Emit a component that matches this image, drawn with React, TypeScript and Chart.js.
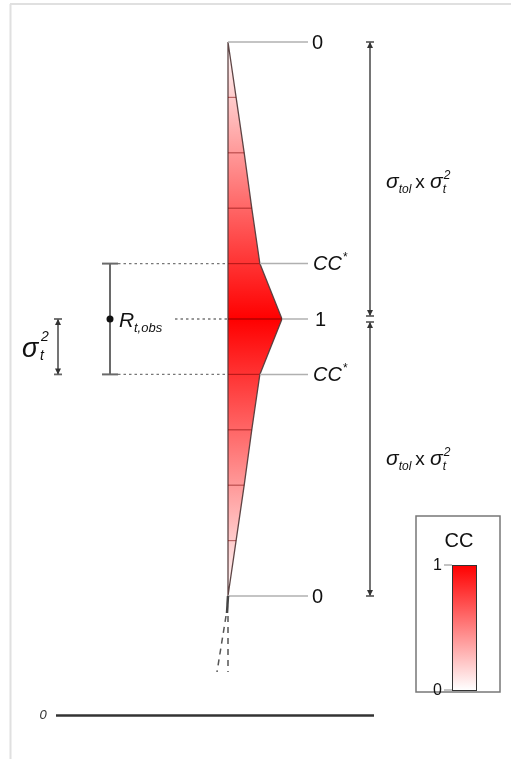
import React, { useEffect, useRef } from 'react';
import { Chart, registerables } from 'chart.js';

Chart.register(...registerables);

// Step positions along the profile (0 = top, 10 = bottom, 5 = R_t,obs)
const positions = [0, 1, 2, 3, 4, 5, 6, 7, 8, 9, 10];
// Correlation coefficient CC at each step (profile width)
const ccValues = [0, 0.15, 0.3, 0.44, 0.59, 1, 0.59, 0.44, 0.3, 0.15, 0];
// Labelled positions and their labels on the right of the profile
const markerPositions = [0, 4, 5, 6, 10];
const markerLabels = ['0', 'CC*', '1', 'CC*', '0'];
const rObsPosition = 5;
const ccStarPositions = [4, 6];
const legendTitle = 'CC';
const legendTickLabels = ['1', '0'];
const baselineLabel = '0';

const FONT = "'Liberation Sans', Arial, sans-serif";

function drawDiagram(chart: any) {
  const ctx: CanvasRenderingContext2D = chart.ctx;
  const xs = chart.scales.x;
  const ys = chart.scales.y;
  const px = (v: number) => xs.getPixelForValue(v);
  const py = (v: number) => ys.getPixelForValue(v);
  const x0 = px(0);

  const line = (a: number, b: number, c: number, d: number) => {
    ctx.beginPath();
    ctx.moveTo(a, b);
    ctx.lineTo(c, d);
    ctx.stroke();
  };

  ctx.save();
  ctx.lineCap = 'butt';

  // frame
  ctx.strokeStyle = '#e0e0e0';
  ctx.lineWidth = 2;
  line(10, 4, 511, 4);
  line(10.5, 4, 10.5, 759);

  // internal step lines in the profile
  positions.forEach((p, i) => {
    if (ccValues[i] <= 0) return;
    ctx.strokeStyle = p === rObsPosition ? 'rgba(110,0,0,0.8)' : 'rgba(120,0,0,0.5)';
    ctx.lineWidth = 1.2;
    line(x0, py(p), px(ccValues[i]), py(p));
  });

  // leader lines and labels
  const leaderEnd = x0 + 80;
  markerPositions.forEach((p, k) => {
    const cc = ccValues[positions.indexOf(p)];
    ctx.strokeStyle = '#b0b0b0';
    ctx.lineWidth = 1.5;
    line(px(cc), py(p), leaderEnd, py(p));
    const lab = markerLabels[k];
    ctx.fillStyle = '#111';
    ctx.textBaseline = 'middle';
    ctx.textAlign = 'left';
    if (lab.endsWith('*')) {
      ctx.font = `italic 20px ${FONT}`;
      const base = lab.slice(0, -1);
      ctx.fillText(base, leaderEnd + 5, py(p) + 1);
      const w = ctx.measureText(base).width;
      ctx.font = `12px ${FONT}`;
      ctx.fillText('*', leaderEnd + 5 + w + 1, py(p) - 6);
    } else {
      ctx.font = `20px ${FONT}`;
      ctx.fillText(lab, leaderEnd + (lab === '1' ? 7 : 4), py(p) + 1);
    }
  });

  // dotted guide lines on the left
  ctx.setLineDash([2.5, 3]);
  ctx.strokeStyle = '#777';
  ctx.lineWidth = 1.3;
  ccStarPositions.forEach((p) => line(118, py(p), x0, py(p)));
  line(175, py(rObsPosition), x0, py(rObsPosition));
  ctx.setLineDash([]);

  // R_t,obs error bar
  const ebx = 110;
  ctx.strokeStyle = '#6a6a6a';
  ctx.lineWidth = 2;
  line(ebx, py(ccStarPositions[0]), ebx, py(ccStarPositions[1]));
  line(ebx - 8, py(ccStarPositions[0]), ebx + 8, py(ccStarPositions[0]));
  line(ebx - 8, py(ccStarPositions[1]), ebx + 8, py(ccStarPositions[1]));
  ctx.fillStyle = '#111';
  ctx.beginPath();
  ctx.arc(ebx, py(rObsPosition), 3.5, 0, Math.PI * 2);
  ctx.fill();
  ctx.textBaseline = 'alphabetic';
  ctx.font = `italic 21px ${FONT}`;
  ctx.fillText('R', ebx + 9, py(rObsPosition) + 8);
  ctx.font = `italic 13px ${FONT}`;
  ctx.fillText('t,obs', ebx + 24, py(rObsPosition) + 13);

  // arrow-capped bars
  const arrowBar = (x: number, y1: number, y2: number) => {
    ctx.strokeStyle = '#666';
    ctx.fillStyle = '#333';
    ctx.lineWidth = 1.8;
    line(x, y1, x, y2);
    line(x - 4, y1, x + 4, y1);
    line(x - 4, y2, x + 4, y2);
    ctx.beginPath();
    ctx.moveTo(x, y1);
    ctx.lineTo(x - 3, y1 + 6);
    ctx.lineTo(x + 3, y1 + 6);
    ctx.closePath();
    ctx.fill();
    ctx.beginPath();
    ctx.moveTo(x, y2);
    ctx.lineTo(x - 3, y2 - 6);
    ctx.lineTo(x + 3, y2 - 6);
    ctx.closePath();
    ctx.fill();
  };

  // sigma_t^2 bar
  arrowBar(58, py(rObsPosition), py(ccStarPositions[1]));
  const sy = (py(rObsPosition) + py(ccStarPositions[1])) / 2;
  ctx.fillStyle = '#111';
  ctx.font = `italic 27px ${FONT}`;
  ctx.fillText('σ', 22, sy + 10);
  ctx.font = `italic 14px ${FONT}`;
  ctx.fillText('2', 41, sy - 6);
  ctx.fillText('t', 40, sy + 13);

  // right tolerance arrows
  const rx = 370;
  arrowBar(rx, py(0), py(rObsPosition) - 3);
  arrowBar(rx, py(rObsPosition) + 3, py(10));
  const tolLabel = (yc: number) => {
    ctx.fillStyle = '#111';
    let x = 386;
    ctx.font = `italic 21px ${FONT}`;
    ctx.fillText('σ', x, yc);
    x += ctx.measureText('σ').width;
    ctx.font = `italic 12px ${FONT}`;
    ctx.fillText('tol', x, yc + 5);
    x += ctx.measureText('tol').width + 4;
    ctx.font = `19px ${FONT}`;
    ctx.fillText('x', x, yc);
    x += ctx.measureText('x ').width;
    ctx.font = `italic 21px ${FONT}`;
    ctx.fillText('σ', x, yc);
    x += ctx.measureText('σ').width;
    ctx.font = `italic 12px ${FONT}`;
    ctx.fillText('2', x + 1, yc - 9);
    ctx.fillText('t', x, yc + 5);
  };
  tolLabel((py(0) + py(rObsPosition)) / 2 + 7);
  tolLabel((py(rObsPosition) + py(10)) / 2 + 7);

  // continuation below the profile
  const yb = py(10);
  ctx.strokeStyle = '#444';
  ctx.lineWidth = 2.5;
  line(x0, yb, x0 - 1, yb + 17);
  ctx.strokeStyle = '#555';
  ctx.lineWidth = 1.5;
  ctx.setLineDash([6, 5]);
  line(x0, yb + 20, x0, yb + 76);
  line(x0 - 2, yb + 20, x0 - 11, yb + 76);
  ctx.setLineDash([]);

  // baseline
  ctx.strokeStyle = '#333';
  ctx.lineWidth = 2.5;
  line(56, 715.5, 374, 715.5);
  ctx.fillStyle = '#333';
  ctx.font = `italic 13px ${FONT}`;
  ctx.textBaseline = 'middle';
  ctx.textAlign = 'center';
  ctx.fillText(baselineLabel, 43, 715);

  // legend
  ctx.strokeStyle = '#777';
  ctx.lineWidth = 1.5;
  ctx.strokeRect(416, 516, 84, 176);
  ctx.fillStyle = '#111';
  ctx.font = `20px ${FONT}`;
  ctx.fillText(legendTitle, 459, 541);
  const cbTop = 565, cbBot = 690, cbL = 452, cbR = 476;
  const g = ctx.createLinearGradient(0, cbTop, 0, cbBot);
  g.addColorStop(0, '#ff0000');
  g.addColorStop(1, '#ffffff');
  ctx.fillStyle = g;
  ctx.fillRect(cbL, cbTop, cbR - cbL, cbBot - cbTop);
  ctx.strokeStyle = '#333';
  ctx.lineWidth = 1;
  ctx.strokeRect(cbL + 0.5, cbTop + 0.5, cbR - cbL, cbBot - cbTop);
  ctx.strokeStyle = '#888';
  line(444, cbTop, cbL, cbTop);
  line(444, cbBot, cbL, cbBot);
  ctx.fillStyle = '#111';
  ctx.font = `16px ${FONT}`;
  ctx.textAlign = 'right';
  ctx.fillText(legendTickLabels[0], 442, cbTop + 1);
  ctx.fillText(legendTickLabels[1], 442, cbBot + 1);

  ctx.restore();
}

export default function App() {
  const ref = useRef<HTMLCanvasElement>(null);
  useEffect(() => {
    if (!ref.current) return;
    const pts = positions.map((p, i) => ({ x: ccValues[i], y: p }));
    pts.push({ x: 0, y: positions[0] });
    const chart = new Chart(ref.current, {
      type: 'scatter',
      data: {
        datasets: [
          {
            data: pts,
            showLine: true,
            fill: 'shape' as any,
            tension: 0,
            pointRadius: 0,
            borderColor: 'rgba(85,60,60,0.95)',
            borderWidth: 1.3,
            clip: false as any,
            backgroundColor: (c: any) => {
              const ca = c.chart.chartArea;
              if (!ca) return 'rgba(255,0,0,0.5)';
              const gr = c.chart.ctx.createLinearGradient(0, ca.top, 0, ca.bottom);
              gr.addColorStop(0, '#ffffff');
              gr.addColorStop(0.5, '#ff0000');
              gr.addColorStop(1, '#ffffff');
              return gr;
            },
          },
        ],
      },
      options: {
        animation: false,
        responsive: false,
        devicePixelRatio: 1,
        layout: { padding: { left: 228, right: 229, top: 42, bottom: 163 } },
        scales: {
          x: { type: 'linear', min: 0, max: 1, display: false },
          y: { type: 'linear', min: 0, max: 10, reverse: true, display: false },
        },
        plugins: { legend: { display: false }, tooltip: { enabled: false } },
        events: [],
      },
      plugins: [{ id: 'diagram', afterDatasetsDraw: (c: any) => drawDiagram(c) }],
    });
    return () => chart.destroy();
  }, []);
  return (
    <canvas
      ref={ref}
      width={511}
      height={759}
      style={{ position: 'absolute', left: 0, top: 0, display: 'block', background: '#fff' }}
    />
  );
}
